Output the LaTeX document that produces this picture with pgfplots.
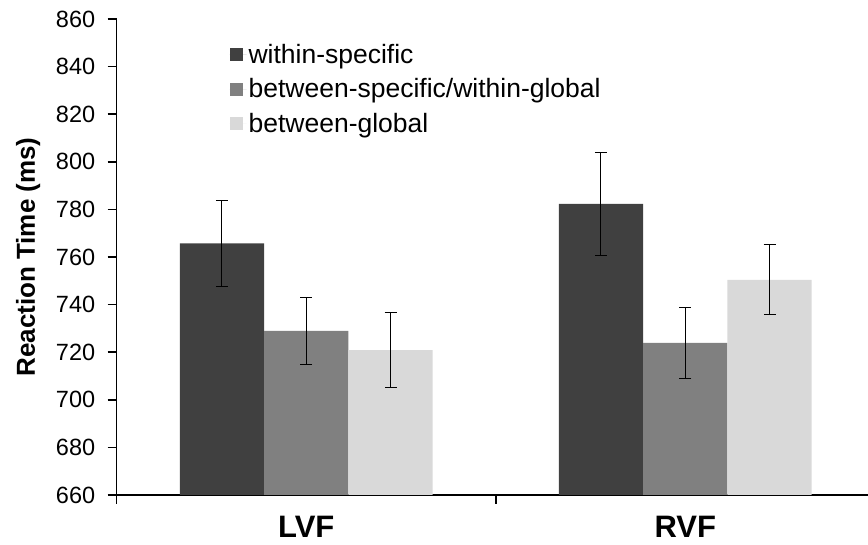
\documentclass[border=0pt]{standalone}
\usepackage{pgfplots}
\pgfplotsset{compat=1.18}
\usepackage{fontspec}
\setmainfont{Liberation Sans}
\definecolor{cdark}{HTML}{404040}
\definecolor{cmid}{HTML}{808080}
\definecolor{clight}{HTML}{D9D9D9}
\begin{document}
\begin{tikzpicture}
\useasboundingbox (-116.7pt,-50pt) rectangle (751.3pt,495pt);
\begin{axis}[
  scale only axis, width=751.3pt, height=476pt,
  xmin=-0.5, xmax=1.482, ymin=660, ymax=860,
  ytick={660,680,...,860},
  axis x line*=bottom, axis y line*=left,
  axis line style={line width=1.6pt, black},
  tick style={line width=1.6pt, black},
  tick align=outside,
  major tick length=9pt,
  xtick={-0.5,0.5}, xticklabels={},
  extra x ticks={0,1}, extra x tick labels={LVF,RVF},
  extra x tick style={major tick length=0pt, tick label style={font=\bfseries\fontsize{31}{36}\selectfont, yshift=-18pt}},
  /pgf/number format/assume math mode=true,
  yticklabel style={font=\fontsize{23.5}{27}\selectfont, xshift=-9pt},
  ylabel={Reaction Time (ms)},
  ylabel style={font=\bfseries\fontsize{26}{30}\selectfont, at={(axis description cs:-0.118,0.5)}, anchor=center},
  ybar, bar width=84.3pt,
  legend style={draw=none, fill=none, at={(rel axis cs:0.150,0.952)}, anchor=north west,
    font=\fontsize{26.5}{30}\selectfont, row sep=10pt, inner sep=0pt},
  legend cell align=left,
  legend image code/.code={\fill[#1] (0pt,-6.5pt) rectangle (13pt,6.5pt); \path (0pt,0pt) -- (17pt,0pt);},
  error bars/y dir=both, error bars/y explicit,
  error bars/error bar style={line width=1pt, black},
  error bars/error mark options={rotate=90, mark size=6pt, line width=1pt, black},
]
\addplot[fill=cdark, draw=none, bar shift=-84.3pt] coordinates {(0,765.7) +- (0,18) (1,782.3) +- (0,21.7)};
\addplot[fill=cmid, draw=none, bar shift=0pt] coordinates {(0,729.0) +- (0,14.1) (1,723.9) +- (0,15.0)};
\addplot[fill=clight, draw=none, bar shift=84.3pt] coordinates {(0,720.9) +- (0,15.6) (1,750.4) +- (0,14.65)};
\legend{within-specific, between-specific/within-global, between-global}
\end{axis}
\end{tikzpicture}
\end{document}
